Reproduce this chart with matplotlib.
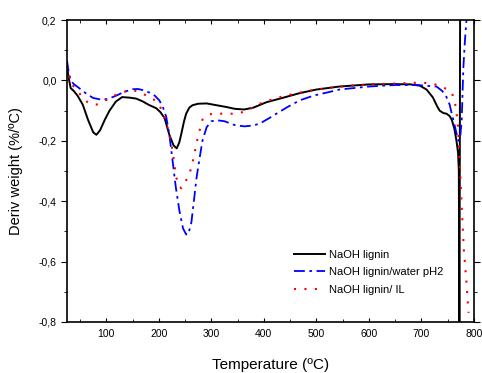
import matplotlib
matplotlib.use('Agg')
import matplotlib.pyplot as plt
from matplotlib.ticker import MultipleLocator, FuncFormatter

plt.rcParams['font.family'] = ['Liberation Sans', 'DejaVu Sans']

# NaOH lignin
t_naoh = [25, 28, 32, 38, 45, 55, 65, 75, 81, 88, 97, 106, 118, 130, 145, 157, 170, 180,
          195, 203, 211, 220, 228, 234, 239, 243, 248, 252, 258, 264, 275, 291, 310, 329,
          345, 363, 380, 405, 435, 468, 500, 544, 600, 650, 680, 697, 710, 722, 730, 735,
          742, 748, 754, 758, 763, 767, 770, 771.5, 772.5, 774]
d_naoh = [0.05, 0.01, -0.025, -0.035, -0.05, -0.08, -0.13, -0.172, -0.18, -0.165, -0.13,
          -0.1, -0.07, -0.055, -0.057, -0.06, -0.07, -0.08, -0.092, -0.105, -0.125, -0.18,
          -0.215, -0.225, -0.205, -0.175, -0.135, -0.11, -0.09, -0.082, -0.077, -0.076,
          -0.082, -0.088, -0.094, -0.096, -0.09, -0.072, -0.058, -0.042, -0.03, -0.02,
          -0.013, -0.012, -0.013, -0.017, -0.03, -0.056, -0.085, -0.1, -0.108, -0.11,
          -0.118, -0.13, -0.16, -0.2, -0.24, -0.3, -0.9, 0.3]

# NaOH lignin/water pH2
t_water = [25, 28, 32, 38, 48, 62, 75, 92, 105, 119, 135, 150, 160, 170, 182, 192, 201,
           208, 214, 220, 226, 232, 239, 246, 252, 256, 262, 268, 272, 277, 283, 291, 300,
           312, 325, 345, 363, 380, 392, 410, 424, 445, 468, 495, 520, 544, 600, 650, 690,
           729, 740, 748, 754, 758, 763, 767, 771, 774, 777, 780, 783, 786, 788]
d_water = [0.066, 0.03, 0.0, -0.012, -0.025, -0.044, -0.058, -0.064, -0.06, -0.05, -0.037,
           -0.029, -0.028, -0.032, -0.04, -0.05, -0.066, -0.09, -0.12, -0.18, -0.264, -0.35,
           -0.43, -0.49, -0.51, -0.51, -0.47, -0.38, -0.32, -0.264, -0.2, -0.155, -0.135,
           -0.132, -0.135, -0.148, -0.152, -0.149, -0.143, -0.125, -0.11, -0.088, -0.066,
           -0.05, -0.04, -0.03, -0.02, -0.015, -0.015, -0.02, -0.035, -0.055, -0.08, -0.11,
           -0.145, -0.175, -0.2, -0.19, -0.13, 0.04, 0.13, 0.2, 0.25]

# NaOH lignin/ IL
t_il = [25, 28, 32, 37, 43, 52, 64, 73, 81, 92, 105, 118, 130, 144, 155, 163, 177, 191,
        202, 212, 218, 224, 229, 233, 238, 243, 248, 255, 262, 268, 274, 283, 292, 302,
        320, 340, 354, 370, 392, 420, 455, 490, 520, 560, 600, 650, 700, 720, 735, 750,
        758, 762, 766, 770, 773, 777, 781, 786, 790]
d_il = [0.05, 0.02, -0.005, -0.018, -0.03, -0.05, -0.072, -0.079, -0.08, -0.072, -0.06,
        -0.048, -0.04, -0.032, -0.034, -0.04, -0.05, -0.064, -0.085, -0.13, -0.165, -0.21,
        -0.27, -0.32, -0.35, -0.357, -0.345, -0.32, -0.29, -0.24, -0.19, -0.13, -0.115,
        -0.11, -0.11, -0.11, -0.108, -0.098, -0.077, -0.06, -0.045, -0.033, -0.025, -0.018,
        -0.013, -0.01, -0.007, -0.01, -0.017, -0.03, -0.04, -0.06, -0.09, -0.155, -0.26,
        -0.42, -0.56, -0.67, -0.77]

fig = plt.figure(figsize=(4.82, 3.73), dpi=100)
fig.patch.set_facecolor('white')
ax = fig.add_axes([0.139, 0.137, 0.844, 0.809])

ax.plot(t_naoh, d_naoh, color='black', lw=1.4, label='NaOH lignin')
ax.plot(t_water, d_water, color='blue', lw=1.3, ls=(0, (6, 2.5, 1.5, 2.5)),
        label='NaOH lignin/water pH2')
ax.plot(t_il, d_il, color='red', lw=1.5, ls=(0, (1, 4)), label='NaOH lignin/ IL')

ax.set_xlim(25, 800)
ax.set_ylim(-0.8, 0.2)
ax.xaxis.set_major_locator(MultipleLocator(100))
ax.xaxis.set_minor_locator(MultipleLocator(50))
ax.yaxis.set_major_locator(MultipleLocator(0.2))
ax.yaxis.set_minor_locator(MultipleLocator(0.1))
ax.yaxis.set_major_formatter(FuncFormatter(lambda v, p: ('%.1f' % v).replace('.', ',')))

ax.tick_params(axis='x', which='both', direction='in', top=True, labelsize=7.5, pad=5)
ax.tick_params(axis='x', which='major', length=3)
ax.tick_params(axis='x', which='minor', length=2)
ax.tick_params(axis='y', which='both', direction='out', right=True, labelsize=7.5)
ax.tick_params(axis='y', which='major', length=4)
ax.tick_params(axis='y', which='minor', length=2.5)
for s in ax.spines.values():
    s.set_linewidth(1.2)

ax.set_xlabel('Temperature (ºC)', fontsize=11, labelpad=14)
ax.set_ylabel('Deriv weight (%/ºC)', fontsize=10.5, labelpad=11)

ax.legend(loc='center', bbox_to_anchor=(0.765, 0.27), bbox_transform=fig.transFigure,
          frameon=False, fontsize=8, handlelength=2.8, handletextpad=0.3, labelspacing=0.7)

fig.savefig('out.png', dpi=100)
